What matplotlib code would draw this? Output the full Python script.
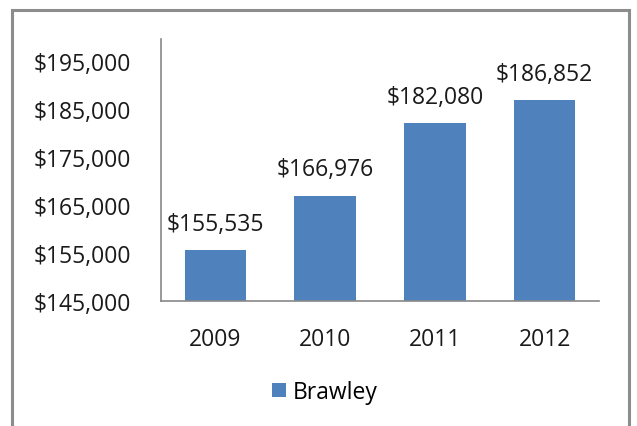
import matplotlib.pyplot as plt
from matplotlib.patches import Rectangle
from matplotlib.ticker import FuncFormatter

years = ["2009", "2010", "2011", "2012"]
values = [155535, 166976, 182080, 186852]
series_name = "Brawley"
yticks = [145000, 155000, 165000, 175000, 185000, 195000]

plt.rcParams["font.family"] = ["Open Sans", "DejaVu Sans"]
FS = 16.5

W, H = 637, 427
fig = plt.figure(figsize=(W / 100, H / 100), dpi=100)
ax = fig.add_axes([160.5 / W, (H - 302) / H, (599.5 - 160.5) / W, (302 - 40) / H])

bars = ax.bar(years, values, width=0.56, color="#4F81BD", label=series_name, zorder=2)
ax.set_ylim(145000, 199600)
ax.set_xlim(-0.5, 3.5)
ax.set_yticks(yticks)
ax.yaxis.set_major_formatter(FuncFormatter(lambda v, p: f"${v:,.0f}"))

for b, v in zip(bars, values):
    ax.annotate(f"${v:,.0f}", (b.get_x() + b.get_width() / 2, v),
                xytext=(0, 19), textcoords="offset points",
                ha="center", va="center", fontsize=FS, color="#1a1a1a")

for s in ["top", "right"]:
    ax.spines[s].set_visible(False)
for s in ["left", "bottom"]:
    ax.spines[s].set_color("#888888")
    ax.spines[s].set_linewidth(1.2)
ax.tick_params(length=0, labelsize=FS, labelcolor="#1a1a1a")
ax.tick_params(axis="y", pad=21)
ax.tick_params(axis="x", pad=19)

ax.legend(loc="center", bbox_to_anchor=(325 / W, (H - 393) / H),
          bbox_transform=fig.transFigure, frameon=False, fontsize=FS,
          handlelength=0.6, handleheight=0.6, handletextpad=0.3)

# outer chart frame
fig.patches.append(Rectangle((11.5 / W, -0.05), (628.5 - 11.5) / W, 1.05 - 11 / H,
                             transform=fig.transFigure, fill=False,
                             edgecolor="#8c8c8c", linewidth=2.2, clip_on=False))

fig.savefig("out.png", dpi=100)
